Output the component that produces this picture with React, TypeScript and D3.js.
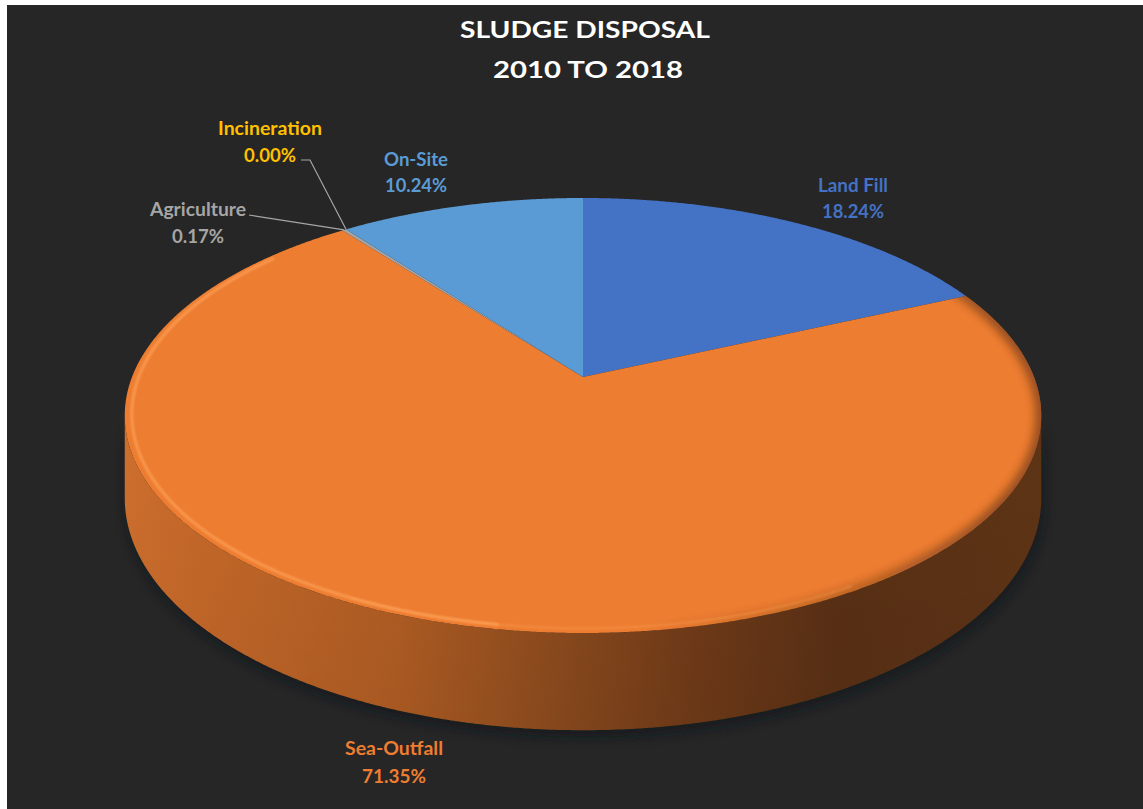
import React from "react";
import * as d3 from "d3";

const categories = ["Land Fill", "Sea-Outfall", "Agriculture", "Incineration", "On-Site"];
const values = [18.24, 71.35, 0.17, 0.0, 10.24];
const sliceColors = ["#4472C4", "#ED7D31", "#A5A5A5", "#FFC000", "#5B9BD5"];
const titleLines = ["SLUDGE DISPOSAL", "2010 TO 2018"];

// layout (not data)
const W = 1143;
const H = 809;
const CX = 583;
const CY = 377;
const A = 451;
const B = 210.7;
const P = -0.177;
const DEPTH = 80;

const labelLayout: Record<string, { x: number; y1: number; y2: number; w1: number; w2: number; leader?: [number, number][] }> = {
  "Land Fill": { x: 853, y1: 192, y2: 218, w1: 70, w2: 62 },
  "On-Site": { x: 416, y1: 166, y2: 192, w1: 64, w2: 62 },
  Incineration: { x: 270, y1: 135, y2: 162, w1: 104, w2: 52, leader: [[301, 160], [310, 160]] },
  Agriculture: { x: 198, y1: 216, y2: 243, w1: 96, w2: 52, leader: [[249, 215]] },
  "Sea-Outfall": { x: 394, y1: 755, y2: 783, w1: 98, w2: 64 },
};

function proj(theta: number, depth = 0, r = 1): [number, number] {
  const u = Math.sin(theta) * r;
  const v = -Math.cos(theta) * r;
  const w = 1 + P * v;
  return [CX + (A * u) / w, CY + (B * v) / w + depth / w];
}

function rim(a0: number, a1: number, depth = 0, r = 1): [number, number][] {
  const n = Math.max(2, Math.ceil(Math.abs(a1 - a0) / 0.005));
  const pts: [number, number][] = [];
  for (let i = 0; i <= n; i++) pts.push(proj(a0 + ((a1 - a0) * i) / n, depth, r));
  return pts;
}

const line = d3.line<[number, number]>();

export default function App() {
  const arcs = d3
    .pie<number>()
    .sort(null)
    .startAngle(0)
    .endAngle(2 * Math.PI)
    .value((d) => d)(values);

  // silhouette tangent angles (x extremes)
  let thR = Math.PI / 2, thL = (3 * Math.PI) / 2, maxX = -1e9, minX = 1e9;
  for (let t = 0; t < 2 * Math.PI; t += 0.0005) {
    const [x] = proj(t);
    if (x > maxX) { maxX = x; thR = t; }
    if (x < minX) { minX = x; thL = t; }
  }
  const sideTop = rim(thR, thL, 0);
  const sideBot = rim(thL, thR, DEPTH);
  const sidePath = line([...sideTop, ...sideBot])! + "Z";

  const slicePaths = arcs.map((a) => {
    const pts: [number, number][] = [[CX, CY], ...rim(a.startAngle, a.endAngle)];
    return line(pts)! + "Z";
  });

  const highlight = line(rim(3.3, 5.4, 0, 0.985))!;
  const highlight2 = line(rim(2.6, 3.6, 0, 0.985))!;
  const darkRim = line(rim(1.1, 3.2, 0, 1))!;

  return (
    <svg width={W} height={H} style={{ position: "absolute", left: 0, top: 0, display: "block" }}>
      <defs>
        <linearGradient id="sideGrad" gradientUnits="userSpaceOnUse" x1={minX} y1={0} x2={maxX} y2={0}>
          <stop offset="0" stopColor="#D0702E" />
          <stop offset="0.08" stopColor="#C86A2A" />
          <stop offset="0.3" stopColor="#B45F24" />
          <stop offset="0.48" stopColor="#8E4C1E" />
          <stop offset="0.62" stopColor="#733C19" />
          <stop offset="0.78" stopColor="#5B3115" />
          <stop offset="1" stopColor="#603516" />
        </linearGradient>
        <linearGradient id="sideShade" gradientUnits="userSpaceOnUse" x1={0} y1={CY} x2={0} y2={CY + 360}>
          <stop offset="0" stopColor="#000" stopOpacity="0" />
          <stop offset="1" stopColor="#000" stopOpacity="0.08" />
        </linearGradient>
        <linearGradient id="darkRimGrad" gradientUnits="userSpaceOnUse" x1={640} y1={0} x2={1000} y2={0}>
          <stop offset="0" stopColor="#5a2e10" stopOpacity="0" />
          <stop offset="0.6" stopColor="#5a2e10" stopOpacity="0.35" />
          <stop offset="1" stopColor="#5a2e10" stopOpacity="0.6" />
        </linearGradient>
        <filter id="blur6" x="-20%" y="-20%" width="140%" height="140%">
          <feGaussianBlur stdDeviation="6" />
        </filter>
        <filter id="blur4" x="-20%" y="-20%" width="140%" height="140%">
          <feGaussianBlur stdDeviation="4" />
        </filter>
        <filter id="blur1" x="-20%" y="-20%" width="140%" height="140%">
          <feGaussianBlur stdDeviation="1.2" />
        </filter>
        <clipPath id="seaClip">
          <path d={slicePaths[1]} />
        </clipPath>
      </defs>
      <rect x={0} y={0} width={W} height={H} fill="#ffffff" />
      <rect x={7} y={5} width={W - 7} height={H - 5} fill="#262626" />

      {/* title */}
      <text x={585} y={38} textAnchor="middle" fill="#ffffff" fontFamily="Lato, 'Open Sans', sans-serif" fontWeight={700} fontSize={22} textLength={250} lengthAdjust="spacingAndGlyphs">
        {titleLines[0]}
      </text>
      <text x={588} y={78} textAnchor="middle" fill="#ffffff" fontFamily="Lato, 'Open Sans', sans-serif" fontWeight={700} fontSize={22} textLength={190} lengthAdjust="spacingAndGlyphs">
        {titleLines[1]}
      </text>

      {/* shadow */}
      <path d={sidePath} fill="#0e141a" opacity={0.7} filter="url(#blur6)" transform="translate(2,6)" />

      {/* side */}
      <path d={sidePath} fill="url(#sideGrad)" />
      <path d={sidePath} fill="url(#sideShade)" />

      {/* top slices */}
      {slicePaths.map((d, i) => (
        <path key={categories[i]} d={d} fill={sliceColors[i]} />
      ))}

      {/* bevel shading on top face */}
      <g clipPath="url(#seaClip)">
        <path d={darkRim} fill="none" stroke="url(#darkRimGrad)" strokeWidth={12} filter="url(#blur4)" />
        <path d={highlight} fill="none" stroke="#FFA45C" strokeWidth={3} opacity={0.7} filter="url(#blur1)" />
        <path d={highlight2} fill="none" stroke="#FFA45C" strokeWidth={2} opacity={0.4} filter="url(#blur1)" />
      </g>

      {/* labels */}
      {arcs.map((a, i) => {
        const cat = categories[i];
        const L = labelLayout[cat];
        const mid = (a.startAngle + a.endAngle) / 2;
        const end = proj(mid);
        const pct = values[i].toFixed(2) + "%";
        return (
          <g key={cat}>
            {L.leader && (
              <path d={line([...L.leader, end])!} fill="none" stroke="#A6A6A6" strokeWidth={1.2} />
            )}
            <text x={L.x} y={L.y1} textAnchor="middle" fill={sliceColors[i]} fontFamily="Lato, 'Open Sans', sans-serif" fontWeight={700} fontSize={19} textLength={L.w1} lengthAdjust="spacingAndGlyphs">
              {cat}
            </text>
            <text x={L.x} y={L.y2} textAnchor="middle" fill={sliceColors[i]} fontFamily="Lato, 'Open Sans', sans-serif" fontWeight={700} fontSize={19} textLength={L.w2} lengthAdjust="spacingAndGlyphs">
              {pct}
            </text>
          </g>
        );
      })}
    </svg>
  );
}
